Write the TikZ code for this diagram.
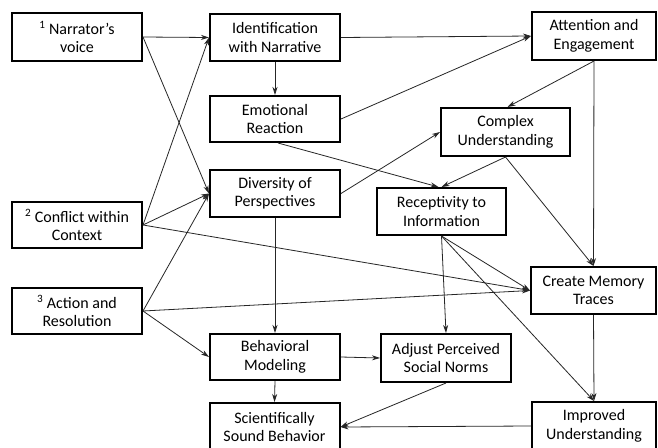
\documentclass[tikz,border=0pt]{standalone}
\usepackage{fontspec}
\setmainfont{Carlito}
\usetikzlibrary{arrows.meta}
\begin{document}
\begin{tikzpicture}[x=1pt,y=-1pt,
  box/.style={draw=black,line width=2pt,fill=white,align=center,inner sep=0pt,
    font=\fontsize{16}{18.5}\selectfont,text=black},
  conn/.style={line width=0.8pt,draw=black!85,-{Stealth[length=8pt,width=5pt,inset=2.5pt]}}]
\clip (0,0) rectangle (658,447);
\fill[white] (0,0) rectangle (658,447);
\node[box,minimum width=130pt,minimum height=48pt] (nar) at (77,37) {\textsuperscript{1} Narrator’s\\voice};
\node[box,minimum width=130pt,minimum height=47pt] (ident) at (275,37.5) {Identification\\with Narrative};
\node[box,minimum width=130pt,minimum height=46pt] (emo) at (275,119) {Emotional\\Reaction};
\node[box,minimum width=130pt,minimum height=47pt] (div) at (275,193.5) {Diversity of\\Perspectives};
\node[box,minimum width=130pt,minimum height=46pt] (conf) at (77,225) {\textsuperscript{2} Conflict within\\Context};
\node[box,minimum width=130pt,minimum height=46pt] (act) at (77,311) {\textsuperscript{3} Action and\\Resolution};
\node[box,minimum width=130pt,minimum height=46pt] (beh) at (275,357) {Behavioral\\Modeling};
\node[box,minimum width=130pt,minimum height=48pt] (sci) at (274.5,427) {Scientifically\\Sound Behavior};
\node[box,minimum width=124pt,minimum height=48pt] (att) at (594,36) {Attention and\\Engagement};
\node[box,minimum width=129pt,minimum height=48pt] (comp) at (505.5,132) {Complex\\Understanding};
\node[box,minimum width=129pt,minimum height=47pt] (rec) at (441.5,211.5) {Receptivity to\\Information};
\node[box,minimum width=125pt,minimum height=47pt] (mem) at (593.5,290.5) {Create Memory\\Traces};
\node[box,minimum width=130pt,minimum height=48pt] (adj) at (446,358) {Adjust Perceived\\Social Norms};
\node[box,minimum width=124pt,minimum height=48pt] (imp) at (594,426) {Improved\\Understanding};

\draw[conn] (nar.east) -- (ident.west);
\draw[conn] (nar.east) -- (div.west);
\draw[conn] (conf.east) -- (ident.west);
\draw[conn] (conf.east) -- (div.west);
\draw[conn] (conf.east) -- (mem.west);
\draw[conn] (act.east) -- (div.west);
\draw[conn] (act.east) -- (mem.west);
\draw[conn] (act.east) -- (beh.west);
\draw[conn] (ident.south) -- (emo.north);
\draw[conn] (ident.east) -- (att.west);
\draw[conn] (emo.east) -- (att.west);
\draw[conn] ([xshift=3pt]emo.south) -- ([xshift=-3pt]rec.north);
\draw[conn] (div.east) -- (comp.west);
\draw[conn] (div.south) -- (beh.north);
\draw[conn] (att.south) -- ([xshift=2pt]comp.north);
\draw[conn] (att.south) -- (mem.north);
\draw[conn] (comp.south) -- (rec.north);
\draw[conn] (comp.south) -- (mem.north);
\draw[conn] (rec.south) -- (mem.west);
\draw[conn] (rec.south) -- (adj.north);
\draw[conn] (rec.south) -- (imp.north);
\draw[conn] (beh.east) -- (adj.west);
\draw[conn] (beh.south) -- (sci.north);
\draw[conn] (adj.south) -- (sci.east);
\draw[conn] (imp.west) -- (sci.east);
\draw[conn] (mem.south) -- (imp.north);
\end{tikzpicture}
\end{document}
